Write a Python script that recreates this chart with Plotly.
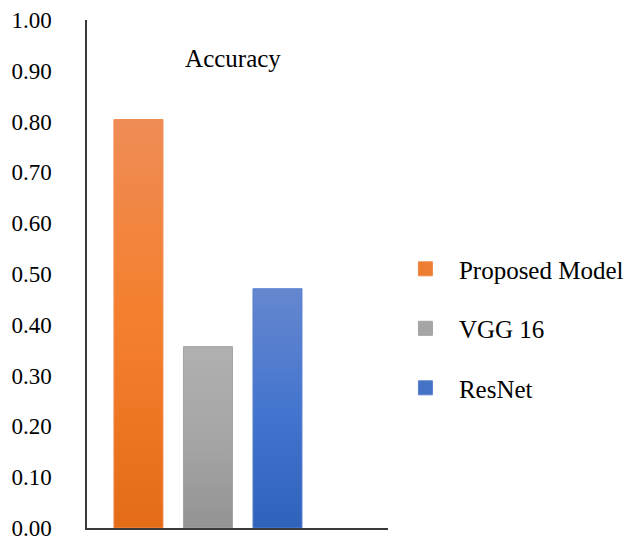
import plotly.graph_objects as go
import json

# ---- data ----
models = ["Proposed Model", "VGG 16", "ResNet"]
accuracy = [0.804, 0.357, 0.471]
tick_vals = [0.0, 0.1, 0.2, 0.3, 0.4, 0.5, 0.6, 0.7, 0.8, 0.9, 1.0]
tick_text = ["0.00", "0.10", "0.20", "0.30", "0.40", "0.50", "0.60", "0.70", "0.80", "0.90", "1.00"]
chart_title = "Accuracy"

# ---- style ----
solid_colors = ["#ED7D31", "#A5A5A5", "#4472C4"]
edge_colors = ["#F08A4B", "#A2A2A2", "#5A80CF"]
grad_stops = [
    ["#EF8C56", "#F47F2C", "#E46C19"],
    ["#B0B0B0", "#A6A6A6", "#939393"],
    ["#6587CF", "#4575CE", "#2E62BB"],
]
FONT = "Liberation Serif, Times New Roman, serif"

fig = go.Figure()
for i, (m, v) in enumerate(zip(models, accuracy)):
    fig.add_trace(go.Bar(
        x=[m], y=[v], name=m, width=0.705,
        marker=dict(color=solid_colors[i], line=dict(color=edge_colors[i], width=1)),
        legendgroup=m, hoverinfo="x+y",
    ))

fig.update_layout(
    width=635, height=540,
    margin=dict(l=87, r=247, t=20, b=12, autoexpand=False),
    paper_bgcolor="white", plot_bgcolor="white",
    barmode="overlay",
    font=dict(family=FONT, color="#000000", size=22),
    title=dict(text=chart_title, x=233 / 635, xanchor="center", y=1 - 58 / 540,
               yanchor="middle", font=dict(family=FONT, size=25, color="#000000")),
    showlegend=True,
    legend=dict(
        x=1.013, xanchor="left", y=0.555, yanchor="top",
        font=dict(family=FONT, size=25, color="#000000"),
        traceorder="grouped", tracegroupgap=24, itemwidth=57,
        bgcolor="rgba(0,0,0,0)", borderwidth=0,
    ),
    xaxis=dict(
        type="category", categoryorder="array", categoryarray=models,
        range=[-0.74, 3.59], showticklabels=False, ticks="",
        showline=True, linecolor="#3a3a3a", linewidth=1.5, showgrid=False,
        zeroline=False, fixedrange=True, automargin=False,
    ),
    yaxis=dict(
        range=[0, 1], tickvals=tick_vals, ticktext=tick_text, ticks="",
        showline=True, linecolor="#3a3a3a", linewidth=1.5, showgrid=False,
        zeroline=False, ticklabelstandoff=29, ticklabeloverflow="allow",
        fixedrange=True, automargin=False,
        tickfont=dict(family=FONT, size=23, color="#000000"),
    ),
)

post = """
var gd = document.getElementById('{plot_id}');
var STOPS = %s;
function applyGrad(){
  var svg = gd.querySelector('.main-svg');
  if(!svg) return;
  var defs = svg.querySelector('defs');
  var ns = 'http://www.w3.org/2000/svg';
  STOPS.forEach(function(s, i){
    var id = 'bargrad' + i;
    if(!document.getElementById(id)){
      var lg = document.createElementNS(ns, 'linearGradient');
      lg.setAttribute('id', id);
      lg.setAttribute('x1','0'); lg.setAttribute('y1','0');
      lg.setAttribute('x2','0'); lg.setAttribute('y2','1');
      s.forEach(function(c, k){
        var st = document.createElementNS(ns, 'stop');
        st.setAttribute('offset', (k/(s.length-1)*100) + '%%');
        st.setAttribute('stop-color', c);
        lg.appendChild(st);
      });
      defs.appendChild(lg);
    }
  });
  var traces = gd.querySelectorAll('.barlayer .trace');
  traces.forEach(function(t, i){
    t.querySelectorAll('path').forEach(function(p){
      p.style.fill = 'url(#bargrad' + i + ')';
    });
  });
  gd.querySelectorAll('.legend .legendpoints path').forEach(function(p){
    p.setAttribute('d', 'M7,7H-7V-7H7Z');
  });
}
applyGrad();
gd.on && gd.on('plotly_afterplot', applyGrad);
""" % json.dumps(grad_stops)

fig.write_html("out.html", post_script=post, config={"displayModeBar": False})
